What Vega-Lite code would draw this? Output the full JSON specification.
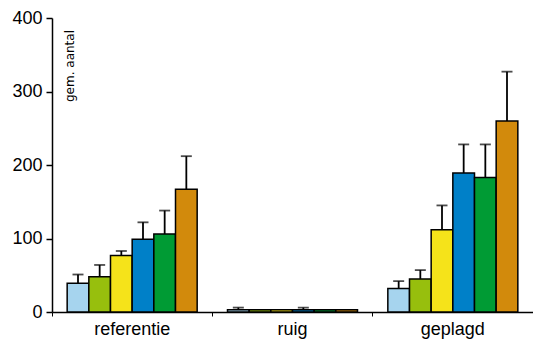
{
  "$schema": "https://vega.github.io/schema/vega-lite/v6.json",
  "width": 481,
  "height": 294,
  "autosize": "none",
  "padding": {"left": 52, "top": 18, "right": 0, "bottom": 27},
  "background": "white",
  "config": {
    "font": "Liberation Sans",
    "view": {"stroke": null},
    "axis": {"domainColor": "black", "tickColor": "black", "labelColor": "black", "grid": false, "title": null}
  },
  "data": {"values": [
    {"group": "referentie", "series": "s1", "value": 39, "top": 51},
    {"group": "referentie", "series": "s2", "value": 48, "top": 64},
    {"group": "referentie", "series": "s3", "value": 77, "top": 83},
    {"group": "referentie", "series": "s4", "value": 99, "top": 122},
    {"group": "referentie", "series": "s5", "value": 106, "top": 138},
    {"group": "referentie", "series": "s6", "value": 167, "top": 212},
    {"group": "ruig", "series": "s1", "value": 3, "top": 6},
    {"group": "ruig", "series": "s2", "value": 3, "top": null},
    {"group": "ruig", "series": "s3", "value": 3, "top": null},
    {"group": "ruig", "series": "s4", "value": 3, "top": 6},
    {"group": "ruig", "series": "s5", "value": 3, "top": null},
    {"group": "ruig", "series": "s6", "value": 3, "top": null},
    {"group": "geplagd", "series": "s1", "value": 32, "top": 42},
    {"group": "geplagd", "series": "s2", "value": 45, "top": 57},
    {"group": "geplagd", "series": "s3", "value": 112, "top": 145},
    {"group": "geplagd", "series": "s4", "value": 189, "top": 228},
    {"group": "geplagd", "series": "s5", "value": 183, "top": 228},
    {"group": "geplagd", "series": "s6", "value": 260, "top": 327}
  ]},
  "encoding": {
    "x": {
      "field": "group", "type": "nominal",
      "sort": ["referentie", "ruig", "geplagd"],
      "scale": {"paddingInner": 0, "paddingOuter": 0},
      "axis": {"labelAngle": 0, "labelFontSize": 18, "tickSize": 4, "bandPosition": 0, "labelPadding": 4, "domainWidth": 1.5}
    },
    "xOffset": {
      "field": "series", "type": "nominal",
      "scale": {"domain": ["s1", "s2", "s3", "s4", "s5", "s6"], "paddingInner": 0, "paddingOuter": 0.7}
    }
  },
  "layer": [
    {
      "transform": [{"filter": "datum.top != null"}],
      "mark": {"type": "rule", "color": "black", "strokeWidth": 1.8},
      "encoding": {
        "y": {"field": "value", "type": "quantitative"},
        "y2": {"field": "top"}
      }
    },
    {
      "transform": [{"filter": "datum.top != null"}],
      "mark": {"type": "tick", "color": "black", "thickness": 1.8, "size": 11, "orient": "horizontal"},
      "encoding": {
        "y": {"field": "top", "type": "quantitative"}
      }
    },
    {
      "mark": {"type": "bar", "stroke": "black", "strokeWidth": 1.5, "opacity": 1},
      "encoding": {
        "y": {
          "field": "value", "type": "quantitative",
          "scale": {"domain": [0, 400], "nice": false},
          "axis": {"values": [0, 100, 200, 300, 400], "labelFontSize": 18, "tickSize": 6, "labelPadding": 4, "domainWidth": 1.5, "tickWidth": 1.5}
        },
        "color": {
          "field": "series", "type": "nominal", "legend": null,
          "scale": {"domain": ["s1", "s2", "s3", "s4", "s5", "s6"], "range": ["#A6D4EE", "#97BF0D", "#F5E31A", "#0080C8", "#009B34", "#D28A0C"]}
        }
      }
    },
    {
      "data": {"values": [{"label": "gem. aantal", "group": "referentie", "series": "s1", "pos": 400}]},
      "mark": {"type": "text", "angle": 270, "align": "right", "baseline": "middle", "font": "DejaVu Sans", "fontSize": 12, "color": "black", "dx": -12, "dy": -8},
      "encoding": {
        "y": {"field": "pos", "type": "quantitative"},
        "text": {"field": "label"}
      }
    }
  ]
}
